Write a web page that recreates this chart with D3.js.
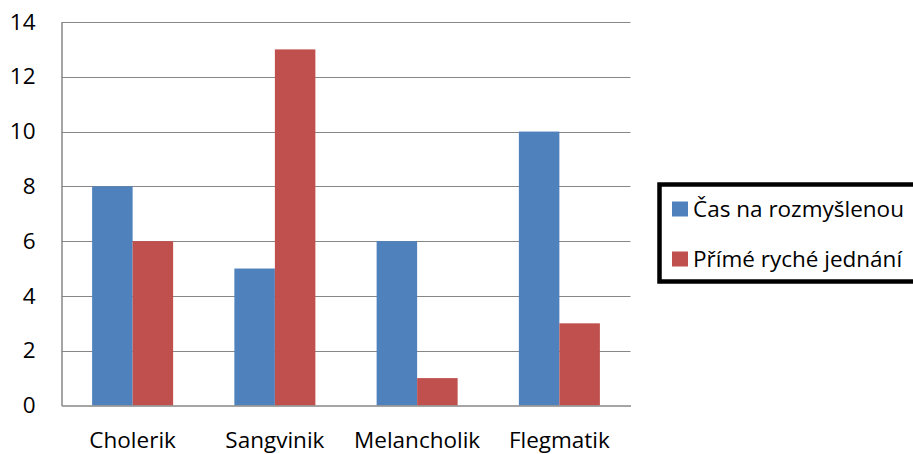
<!DOCTYPE html>
<html><head><meta charset="utf-8">
<script src="https://cdn.jsdelivr.net/npm/d3@7"></script>
<style>body{margin:0;background:#fff}svg{display:block}</style>
</head><body>
<script>
const categories = ["Cholerik","Sangvinik","Melancholik","Flegmatik"];
const seriesNames = ["Čas na rozmyšlenou","Přímé ryché jednání"];
const casValues = [8,5,6,10];
const primeValues = [6,13,1,3];
const yTicks = [0,2,4,6,8,10,12,14];
const colors = ["#4F81BD","#C0504D"];

const W=913,H=454;
const font = "'Open Sans', sans-serif";
const fs = 22.5;
const svg = d3.select("body").append("svg").attr("width",W).attr("height",H);
const m={l:61.5,r:630.5,t:22,b:405.5};
const x = d3.scaleBand().domain(categories).range([m.l,m.r]).paddingInner(0).paddingOuter(0);
const y = d3.scaleLinear().domain([0,14]).range([m.b,m.t]);
const inner = d3.scaleBand().domain([0,1]).range([0,x.bandwidth()]).paddingInner(0).paddingOuter(0.756);

// gridlines
svg.append("g").selectAll("line").data(yTicks.filter(d=>d>0)).join("line")
 .attr("x1",m.l).attr("x2",m.r).attr("y1",d=>Math.round(y(d))+0.5).attr("y2",d=>Math.round(y(d))+0.5)
 .attr("stroke","#878787").attr("stroke-width",1);

const series=[casValues,primeValues];
series.forEach((vals,si)=>{
  svg.append("g").selectAll("rect").data(vals).join("rect")
   .attr("x",(d,i)=>x(categories[i])+inner(si))
   .attr("width",inner.bandwidth())
   .attr("y",d=>y(d)).attr("height",d=>y(0)-y(d))
   .attr("fill",colors[si]);
});

// axes
const yAxis = d3.axisLeft(y).tickValues(yTicks).tickSize(0).tickPadding(26);
const gy = svg.append("g").attr("transform",`translate(${m.l},0)`).call(yAxis);
gy.select(".domain").attr("stroke","#878787").attr("stroke-width",1.5);
gy.selectAll("text").attr("font-family",font).attr("font-size",fs).attr("fill","#000");

const xAxis = d3.axisBottom(x).tickSize(0).tickPadding(27);
const gx = svg.append("g").attr("transform",`translate(0,${m.b})`).call(xAxis);
gx.select(".domain").attr("stroke","#878787").attr("stroke-width",1.5);
gx.selectAll("text").attr("font-family",font).attr("font-size",fs).attr("fill","#000");

// legend
const lg = svg.append("g");
lg.append("rect").attr("x",659.5).attr("y",184.5).attr("width",270).attr("height",97)
 .attr("fill","#fff").attr("stroke","#000").attr("stroke-width",4.5);
seriesNames.forEach((n,i)=>{
  const cy = 209 + i*50;
  lg.append("rect").attr("x",672).attr("y",cy-7.5).attr("width",16).attr("height",15).attr("fill",colors[i]);
  lg.append("text").attr("x",693).attr("y",cy).attr("dy","0.35em")
   .attr("font-family",font).attr("font-size",fs).text(n);
});
</script>
</body></html>
